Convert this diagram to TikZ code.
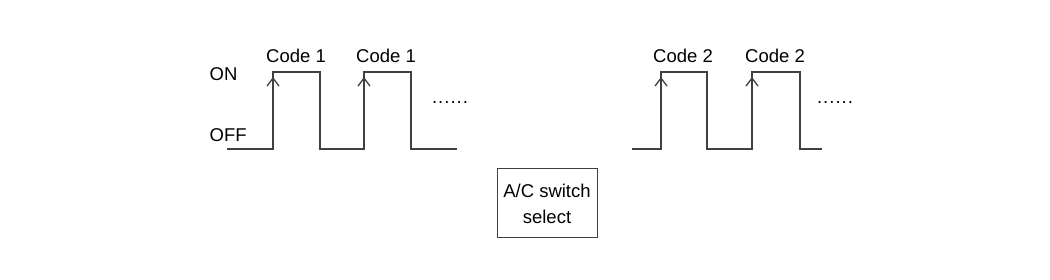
\documentclass[tikz,border=0pt]{standalone}
\usepackage{fontspec}
\setmainfont{Liberation Sans}
\usetikzlibrary{arrows.meta, positioning}

\begin{document}
\begin{tikzpicture}[x=1pt, y=-1pt, line width=1.3pt,
  font=\fontsize{18.5}{26}\selectfont,
  pulse/.style={draw=black!75},
  edge/.style={draw=black!75, -{Straight Barb[length=8pt, width=12pt]}},
  label/.style={inner sep=0pt}]
  \useasboundingbox (0,0) rectangle (1050,280);
  % code 1 train
  \draw[pulse] (227,149) -- (273,149) -- (273,72) -- (320,72) -- (320,149)
    -- (364,149) -- (364,72) -- (411,72) -- (411,149) -- (457,149);
  \draw[edge] (273,149) -- (273,77);
  \draw[edge] (364,149) -- (364,77);
  \node[label] (c1a) at (296,56) {Code 1};
  \node[label] (c1b) at (386,56) {Code 1};
  \node[label, anchor=west] (on) at (209,74) {ON};
  \node[label, anchor=west] (off) at (209,135) {OFF};
  \node[label] (dots1) at (450,104) {\textperiodcentered\textperiodcentered\textperiodcentered\textperiodcentered\textperiodcentered\textperiodcentered};
  % code 2 train
  \draw[pulse] (632,149) -- (661,149) -- (661,72) -- (707,72) -- (707,149)
    -- (752,149) -- (752,72) -- (800,72) -- (800,149) -- (822,149);
  \draw[edge] (661,149) -- (661,77);
  \draw[edge] (752,149) -- (752,77);
  \node[label] (c2a) at (683,56) {Code 2};
  \node[label] (c2b) at (775,56) {Code 2};
  \node[label] (dots2) at (835,104) {\textperiodcentered\textperiodcentered\textperiodcentered\textperiodcentered\textperiodcentered\textperiodcentered};
  % switch
  \node[draw=black!75, line width=1pt, minimum width=100pt, minimum height=69pt,
    align=center] (ac) at (547,203.5) {A/C switch\\select};
\end{tikzpicture}
\end{document}
